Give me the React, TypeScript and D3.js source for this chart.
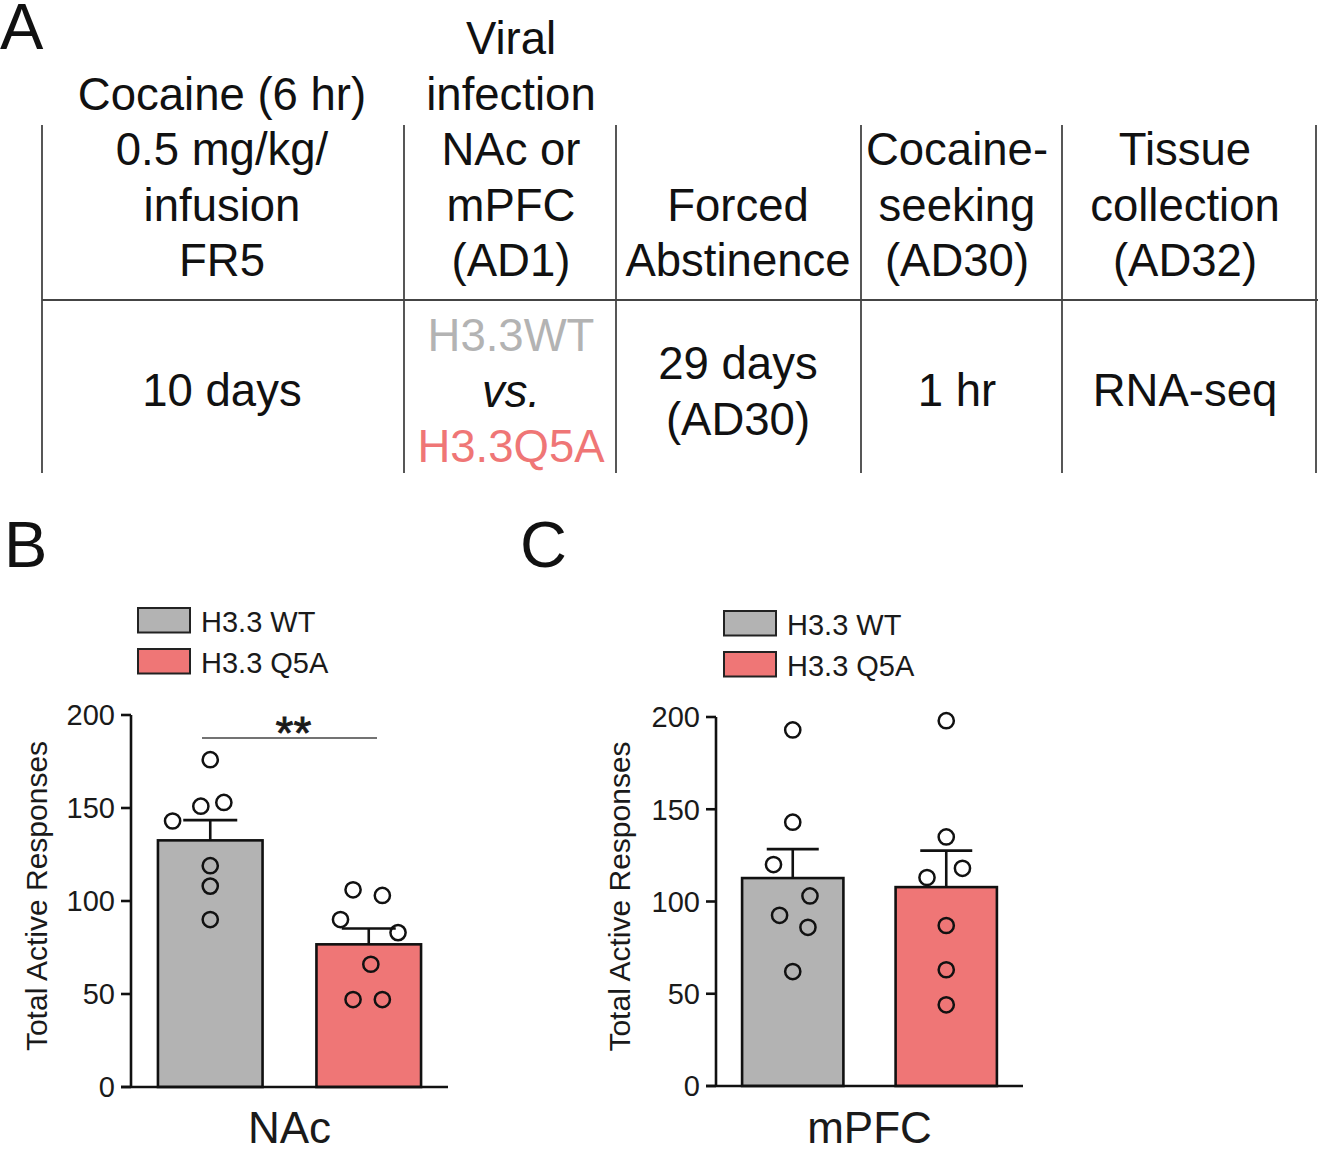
import React from "react";
import * as d3 from "d3";

// ---------- Data ----------
const groups = ["H3.3 WT", "H3.3 Q5A"];
const groupColors = ["#b3b3b3", "#ef7676"];

const nacMeans = [132.6, 76.7];
const nacSem = [10.9, 8.5];
const nacWT = [176, 151, 153, 143, 119, 108, 90];
const nacQ5A = [106, 103, 90, 83, 66, 47, 47];
const nacWTJitter = [0, -0.09, 0.13, -0.36, 0, 0, 0];
const nacQ5AJitter = [-0.15, 0.13, -0.27, 0.28, 0.02, -0.15, 0.13];

const mpfcMeans = [112.7, 107.8];
const mpfcSem = [15.7, 19.8];
const mpfcWT = [193, 143, 120, 103, 92.5, 86, 62];
const mpfcQ5A = [198, 135, 118, 113, 87, 63, 44];
const mpfcWTJitter = [0, 0, -0.19, 0.17, -0.13, 0.15, 0];
const mpfcQ5AJitter = [0, 0, 0.16, -0.19, 0, 0, 0];

const yTicks = [0, 50, 100, 150, 200];
const yTitle = "Total Active Responses";

// Table (panel A)
const headerCols = [
  ["Cocaine (6 hr)", "0.5 mg/kg/", "infusion", "FR5"],
  ["Viral", "infection", "NAc or", "mPFC", "(AD1)"],
  ["Forced", "Abstinence"],
  ["Cocaine-", "seeking", "(AD30)"],
  ["Tissue", "collection", "(AD32)"],
];
const bodyCols = [
  ["10 days"],
  ["H3.3WT", "vs.", "H3.3Q5A"],
  ["29 days", "(AD30)"],
  ["1 hr"],
  ["RNA-seq"],
];

const FONT = "'Liberation Sans', Arial, Helvetica, sans-serif";

type PanelProps = {
  x0: number;
  x1: number;
  yTop: number;
  yBottom: number;
  means: number[];
  sem: number[];
  points: number[][];
  jitters: number[][];
  category: string;
  legendX: number;
  legendY: number;
  titleX: number;
  capHalf: number;
  sig?: { x1: number; x2: number; y: number };
};

function BarPanel(p: PanelProps) {
  const x = d3
    .scaleBand<string>()
    .domain(groups)
    .range([p.x0, p.x1])
    .paddingInner(0.34)
    .paddingOuter(0.17);
  const y = d3.scaleLinear().domain([0, 200]).range([p.yBottom, p.yTop]);
  const bw = x.bandwidth();
  const sw = 2.6;
  return (
    <g>
      {/* legend */}
      {groups.map((g, i) => (
        <g key={g}>
          <rect
            x={p.legendX}
            y={p.legendY + i * 41}
            width={52}
            height={24.5}
            fill={groupColors[i]}
            stroke="#222"
            strokeWidth={2}
          />
          <text
            x={p.legendX + 63}
            y={p.legendY + i * 41 + 24}
            fontSize={29}
            fontFamily={FONT}
            fill="#1a1a1a"
          >
            {g}
          </text>
        </g>
      ))}
      {/* bars */}
      {groups.map((g, i) => (
        <rect
          key={g}
          x={x(g)!}
          y={y(p.means[i])}
          width={bw}
          height={y(0) - y(p.means[i])}
          fill={groupColors[i]}
          stroke="#111"
          strokeWidth={sw}
        />
      ))}
      {/* error bars */}
      {groups.map((g, i) => {
        const cx = x(g)! + bw / 2;
        const top = y(p.means[i] + p.sem[i]);
        return (
          <g key={g} stroke="#111" strokeWidth={sw}>
            <line x1={cx} x2={cx} y1={y(p.means[i])} y2={top} />
            <line x1={cx - p.capHalf} x2={cx + p.capHalf} y1={top} y2={top} />
          </g>
        );
      })}
      {/* points */}
      {groups.map((g, i) =>
        p.points[i].map((v, j) => (
          <circle
            key={g + j}
            cx={x(g)! + bw / 2 + p.jitters[i][j] * bw}
            cy={y(v)}
            r={7.6}
            fill="none"
            stroke="#111"
            strokeWidth={2.5}
          />
        ))
      )}
      {/* axes */}
      <line x1={p.x0} x2={p.x0} y1={y(200)} y2={y(0)} stroke="#111" strokeWidth={sw} />
      <line x1={p.x0 - 10} x2={p.x1} y1={y(0)} y2={y(0)} stroke="#111" strokeWidth={sw} />
      {yTicks.map((t) => (
        <g key={t}>
          <line x1={p.x0 - 10} x2={p.x0} y1={y(t)} y2={y(t)} stroke="#111" strokeWidth={sw} />
          <text
            x={p.x0 - 16}
            y={y(t)}
            dy="0.36em"
            textAnchor="end"
            fontSize={29}
            fontFamily={FONT}
            fill="#1a1a1a"
          >
            {t}
          </text>
        </g>
      ))}
      <text
        transform={`translate(${p.titleX},${(y(0) + y(200)) / 2 - 5}) rotate(-90)`}
        textAnchor="middle"
        fontSize={30}
        fontFamily={FONT}
        fill="#1a1a1a"
      >
        {yTitle}
      </text>
      <text
        x={(p.x0 + p.x1) / 2}
        y={1143}
        textAnchor="middle"
        fontSize={44}
        fontFamily={FONT}
        fill="#1a1a1a"
      >
        {p.category}
      </text>
      {p.sig && (
        <g>
          <line x1={p.sig.x1} x2={p.sig.x2} y1={p.sig.y} y2={p.sig.y} stroke="#444" strokeWidth={1.6} />
          <text
            x={(p.sig.x1 + p.sig.x2) / 2 + 4}
            y={p.sig.y + 11}
            textAnchor="middle"
            fontSize={46}
            fontFamily={FONT}
            fill="#1a1a1a"
            stroke="#1a1a1a"
            strokeWidth={0.8}
          >
            **
          </text>
        </g>
      )}
    </g>
  );
}

export default function App() {
  const colX = d3.scaleOrdinal<number, number>().domain([0, 1, 2, 3, 4]).range([222, 511, 738, 957, 1185]);
  const vLines = [42, 404, 616, 861, 1062, 1316];
  const headerBaseLast = 276;
  const lineH = 55.5;
  const bodyColors = [
    ["#111"],
    ["#b3b3b3", "#111", "#ef7676"],
    ["#111", "#111"],
    ["#111"],
    ["#111"],
  ];
  const bodyStart = [406, 351, 379, 406, 406];
  return (
    <svg
      width={1318}
      height={1149}
      style={{ position: "absolute", left: 0, top: 0, background: "#fff" }}
    >
      <rect width={1318} height={1149} fill="#fff" />
      {/* Panel letters */}
      <text x={0} y={49} fontSize={65} fontFamily={FONT} fill="#111">A</text>
      <text x={4} y={567} fontSize={65} fontFamily={FONT} fill="#111">B</text>
      <text x={520} y={567} fontSize={65} fontFamily={FONT} fill="#111">C</text>

      {/* Table */}
      {vLines.map((vx) => (
        <line key={vx} x1={vx} x2={vx} y1={125} y2={473} stroke="#444" strokeWidth={1.8} />
      ))}
      <line x1={42} x2={1318} y1={300} y2={300} stroke="#444" strokeWidth={1.8} />
      {headerCols.map((col, ci) =>
        col.map((t, li) => (
          <text
            key={ci + "-" + li}
            x={colX(ci)}
            y={headerBaseLast - (col.length - 1 - li) * lineH}
            textAnchor="middle"
            fontSize={45.5}
            fontFamily={FONT}
            fill="#111"
          >
            {t}
          </text>
        ))
      )}
      {bodyCols.map((col, ci) =>
        col.map((t, li) => (
          <text
            key={"b" + ci + "-" + li}
            x={colX(ci)}
            y={bodyStart[ci] + li * lineH}
            textAnchor="middle"
            fontSize={45.5}
            fontFamily={FONT}
            fontStyle={t === "vs." ? "italic" : "normal"}
            fill={bodyColors[ci][li]}
          >
            {t}
          </text>
        ))
      )}

      <BarPanel
        x0={131}
        x1={448}
        yTop={715}
        yBottom={1087}
        means={nacMeans}
        sem={nacSem}
        points={[nacWT, nacQ5A]}
        jitters={[nacWTJitter, nacQ5AJitter]}
        category="NAc"
        legendX={138}
        legendY={608}
        titleX={47}
        capHalf={27}
        sig={{ x1: 202, x2: 377, y: 738 }}
      />
      <BarPanel
        x0={716}
        x1={1023}
        yTop={717}
        yBottom={1086}
        means={mpfcMeans}
        sem={mpfcSem}
        points={[mpfcWT, mpfcQ5A]}
        jitters={[mpfcWTJitter, mpfcQ5AJitter]}
        category="mPFC"
        legendX={724}
        legendY={611}
        titleX={630}
        capHalf={26}
      />
    </svg>
  );
}
